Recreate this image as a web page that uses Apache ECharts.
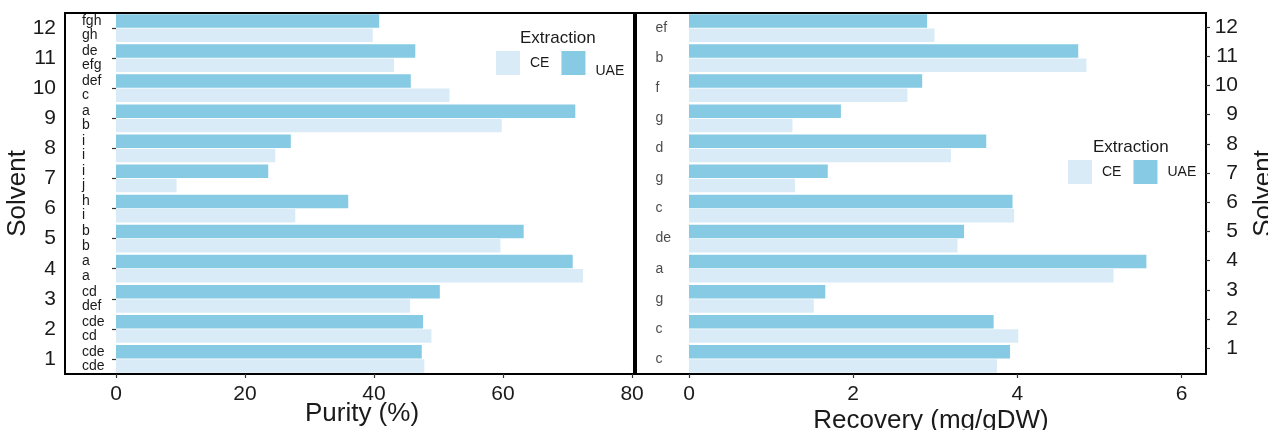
<!DOCTYPE html>
<html>
<head>
<meta charset="utf-8">
<script src="https://cdn.jsdelivr.net/npm/echarts@6/dist/echarts.min.js"></script>
<style>
html,body{margin:0;padding:0;background:#fff;}
#chart{width:1268px;height:430px;}
</style>
</head>
<body>
<div id="chart"></div>
<script>
// ---- data (solvent 1 .. 12, bottom to top) ----
const categories = ['1','2','3','4','5','6','7','8','9','10','11','12'];
const purityUAE = [47.4, 47.6, 50.2, 70.8, 63.2, 36.0, 23.6, 27.1, 71.2, 45.7, 46.4, 40.8];
const purityCE  = [47.8, 48.9, 45.6, 72.4, 59.6, 27.8, 9.4, 24.7, 59.8, 51.7, 43.1, 39.8];
const purityLettersUAE = ['cde','cde','cd','a','b','h','i','i','a','def','de','fgh'];
const purityLettersCE  = ['cde','cd','def','a','b','i','j','i','b','c','efg','gh'];
const recoveryUAE = [3.91, 3.71, 1.66, 5.57, 3.35, 3.94, 1.69, 3.62, 1.85, 2.84, 4.74, 2.90];
const recoveryCE  = [3.75, 4.01, 1.52, 5.17, 3.27, 3.96, 1.29, 3.19, 1.26, 2.66, 4.84, 2.99];
const recoveryLetters = ['c','c','g','a','de','c','g','d','g','f','b','ef'];
const purityTicks = [0, 20, 40, 60, 80];
const recoveryTicks = [0, 2, 4, 6];
const solventTicks = [1,2,3,4,5,6,7,8,9,10,11,12];

// ---- style ----
const COL_CE = '#D9EBF7';
const COL_UAE = '#87CAE3';
const FONT = '"Liberation Sans", Arial, Helvetica, sans-serif';
const TXT = '#1a1a1a';
const RECOVERY_LABEL_X = -0.414;

const chart = echarts.init(document.getElementById('chart'), null, {renderer: 'canvas'});

const tickStyle = {show: true, length: 4, lineStyle: {color: '#333', width: 1.2}};

const legendRich = {
  c: {padding: [0, 0, 0, 5], fontSize: 14, color: TXT, fontFamily: FONT},
  u: {padding: [0, 0, 0, 5], fontSize: 14, color: TXT, fontFamily: FONT},
  ul: {padding: [16, 0, 0, 5], fontSize: 14, color: TXT, fontFamily: FONT}
};

const barCommon = {barCategoryGap: '8%', barGap: '5%'};

const option = {
  backgroundColor: '#fff',
  animation: false,
  textStyle: {fontFamily: FONT},
  title: [
    {text: 'Extraction', left: 520, top: 30, padding: 0,
     textStyle: {fontSize: 17, fontWeight: 'normal', color: TXT, fontFamily: FONT}},
    {text: 'Extraction', left: 1093, top: 139, padding: 0,
     textStyle: {fontSize: 17, fontWeight: 'normal', color: TXT, fontFamily: FONT}}
  ],
  legend: [
    {data: ['CE', 'UAE'], left: 496, top: 51, padding: 0, itemWidth: 24, itemHeight: 24, itemGap: 12,
     icon: 'rect', selectedMode: false,
     formatter: n => n === 'UAE' ? '{ul|' + n + '}' : '{c|' + n + '}',
     textStyle: {rich: legendRich}},
    {data: ['CE', 'UAE'], left: 1068, top: 160, padding: 0, itemWidth: 24, itemHeight: 24, itemGap: 12,
     icon: 'rect', selectedMode: false,
     formatter: n => n === 'UAE' ? '{u|' + n + '}' : '{c|' + n + '}',
     textStyle: {rich: legendRich}}
  ],
  grid: [
    {left: 65, top: 13, width: 569, height: 361, show: true, borderColor: '#000', borderWidth: 2,
     backgroundColor: '#fff', containLabel: false, outerBoundsMode: 'none'},
    {left: 636, top: 13, width: 570, height: 361, show: true, borderColor: '#000', borderWidth: 2,
     backgroundColor: '#fff', containLabel: false, outerBoundsMode: 'none'}
  ],
  xAxis: [
    {type: 'value', gridIndex: 0, min: -7.9, max: 80.3,
     axisLine: {show: false}, splitLine: {show: false},
     axisTick: Object.assign({customValues: purityTicks}, tickStyle),
     axisLabel: {customValues: purityTicks, fontSize: 21, color: TXT, margin: 10, fontFamily: FONT},
     name: 'Purity (%)', nameLocation: 'middle', nameGap: 27, nameMoveOverlap: false,
     nameTextStyle: {fontSize: 26, color: TXT, fontFamily: FONT, padding: [0, 0, 0, 25]}},
    {type: 'value', gridIndex: 1, min: -0.645, max: 6.296,
     axisLine: {show: false}, splitLine: {show: false},
     axisTick: Object.assign({customValues: recoveryTicks}, tickStyle),
     axisLabel: {customValues: recoveryTicks, fontSize: 21, color: TXT, margin: 10, fontFamily: FONT},
     name: 'Recovery (mg/gDW)', nameLocation: 'middle', nameGap: 34, nameMoveOverlap: false,
     nameTextStyle: {fontSize: 26, color: TXT, fontFamily: FONT, padding: [0, 0, 0, 20]}}
  ],
  yAxis: [
    {type: 'category', gridIndex: 0, data: categories, position: 'left',
     axisLine: {show: false}, splitLine: {show: false},
     axisTick: Object.assign({alignWithLabel: true}, tickStyle),
     axisLabel: {fontSize: 21, color: TXT, margin: 9, fontFamily: FONT},
     name: 'Solvent', nameLocation: 'middle', nameGap: 34, nameRotate: 90, nameMoveOverlap: false,
     nameTextStyle: {fontSize: 26, color: TXT, fontFamily: FONT}},
    {type: 'category', gridIndex: 1, data: categories, position: 'left',
     axisLine: {show: false}, axisTick: {show: false}, axisLabel: {show: false}, splitLine: {show: false}},
    {type: 'value', gridIndex: 1, position: 'right', min: 0.12, max: 12.48,
     axisLine: {show: false}, splitLine: {show: false},
     axisTick: Object.assign({customValues: solventTicks}, tickStyle),
     axisLabel: {customValues: solventTicks, fontSize: 21, color: TXT, margin: 32, align: 'right', fontFamily: FONT},
     name: 'Solvent', nameLocation: 'middle', nameGap: 45, nameRotate: 90, nameMoveOverlap: false,
     nameTextStyle: {fontSize: 26, color: TXT, fontFamily: FONT}}
  ],
  series: [
    Object.assign({name: 'UAE', type: 'bar', xAxisIndex: 0, yAxisIndex: 0, data: purityUAE,
     itemStyle: {color: COL_UAE},
     label: {show: true, position: 'left', align: 'left', distance: 34, fontSize: 14, color: TXT, fontFamily: FONT,
             formatter: p => purityLettersUAE[p.dataIndex]}}, barCommon),
    Object.assign({name: 'CE', type: 'bar', xAxisIndex: 0, yAxisIndex: 0, data: purityCE,
     itemStyle: {color: COL_CE},
     label: {show: true, position: 'left', align: 'left', distance: 34, fontSize: 14, color: TXT, fontFamily: FONT,
             formatter: p => purityLettersCE[p.dataIndex]}}, barCommon),
    Object.assign({name: 'UAE', type: 'bar', xAxisIndex: 1, yAxisIndex: 1, data: recoveryUAE,
     itemStyle: {color: COL_UAE}}, barCommon),
    Object.assign({name: 'CE', type: 'bar', xAxisIndex: 1, yAxisIndex: 1, data: recoveryCE,
     itemStyle: {color: COL_CE}}, barCommon),
    {name: 'letters', type: 'scatter', xAxisIndex: 1, yAxisIndex: 1,
     data: recoveryLetters.map((l, i) => [RECOVERY_LABEL_X, i]),
     symbolSize: 1, itemStyle: {color: 'rgba(0,0,0,0)'}, silent: true,
     label: {show: true, position: 'right', distance: 0, fontSize: 14, color: TXT, fontFamily: FONT,
             formatter: p => recoveryLetters[p.dataIndex]}}
  ]
};
chart.setOption(option);
</script>
</body>
</html>
